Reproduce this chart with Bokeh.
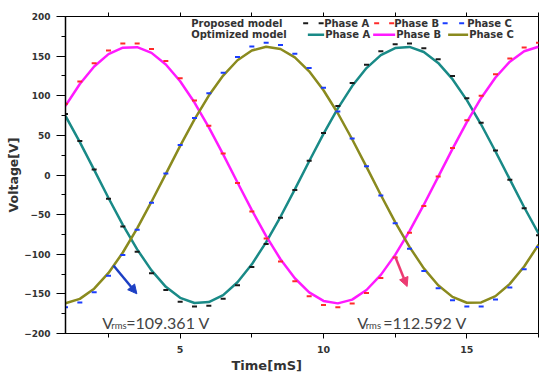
from bokeh.plotting import figure
from bokeh.models import Range1d, FixedTicker, LinearAxis, Label, Arrow, NormalHead, Title
from bokeh.core.properties import value
from bokeh.embed import file_html
from bokeh.resources import INLINE

# ---- data ----
time_ms = [1.0, 1.5, 2.0, 2.5, 3.0, 3.5, 4.0, 4.5, 5.0, 5.5, 6.0, 6.5, 7.0, 7.5, 8.0, 8.5,
           9.0, 9.5, 10.0, 10.5, 11.0, 11.5, 12.0, 12.5, 13.0, 13.5, 14.0, 14.5, 15.0, 15.5,
           16.0, 16.5, 17.0, 17.5]

opt_phase_a = [74.5, 41.4, 6.4, -29.0, -62.9, -93.9, -120.3, -141.1, -155.0, -161.5, -160.3,
               -151.5, -135.4, -112.7, -84.7, -52.7, -18.1, 17.3, 51.9, 84.1, 112.2, 134.9,
               151.2, 160.2, 161.6, 155.2, 141.4, 120.9, 94.5, 63.7, 29.7, -5.6, -40.7, -73.8]
opt_phase_b = [87.3, 114.9, 137.0, 152.5, 160.7, 161.3, 154.1, 139.5, 118.3, 91.4, 60.1, 26.0,
               -9.4, -44.4, -77.2, -106.3, -130.3, -148.2, -158.9, -162.0, -157.3, -145.1,
               -126.0, -100.8, -70.9, -37.5, -2.3, 33.0, 66.7, 97.2, 123.0, 143.0, 156.1, 161.8]
opt_phase_c = [-161.8, -156.3, -143.4, -123.6, -97.8, -67.4, -33.7, 1.5, 36.7, 70.1, 100.2,
               125.5, 144.8, 157.1, 161.9, 159.0, 148.5, 130.8, 106.9, 77.9, 45.1, 10.2, -25.2,
               -59.4, -90.7, -117.8, -139.1, -153.8, -161.2, -160.8, -152.8, -137.4, -115.5, -88.0]

prop_phase_a = [77, 43, 7, -30, -65, -97, -124, -145, -160, -166, -165, -156, -139, -116, -87,
                -54, -19, 18, 53, 87, 116, 139, 156, 165, 166, 160, 146, 125, 97, 66, 31, -6,
                -42, -76]
prop_phase_b = [90, 118, 141, 157, 166, 166, 159, 144, 122, 94, 62, 27, -10, -46, -80, -109,
                -134, -153, -164, -167, -162, -149, -130, -104, -73, -39, -2, 34, 69, 100, 127,
                147, 161, 167]
prop_phase_c = [-167, -161, -148, -127, -101, -69, -35, 2, 38, 72, 103, 129, 149, 162, 167, 164,
                153, 135, 110, 80, 46, 11, -26, -61, -93, -121, -143, -158, -166, -166, -157,
                -142, -119, -91]

y_ticks = [-200, -150, -100, -50, 0, 50, 100, 150, 200]
y_minor = [-175, -125, -75, -25, 25, 75, 125, 175]
x_ticks = [5, 10, 15]
x_minor = [2.5, 7.5, 12.5, 17.5]
top_ticks = [2.5, 5, 7.5, 10, 12.5, 15, 17.5]

vrms_left = "=109.361 V"
vrms_right = "=112.592 V"

TEAL = "#198a87"
MAGENTA = "#ff1aff"
OLIVE = "#8a8a1e"
BLACK_M = "#1a1a1a"
RED_M = "#ff2a2a"
BLUE_M = "#1a3cff"
TXT = "#333333"

# conversion from reference pixels to data coordinates (annotation placement)
def dx(px):
    return 5 + (px - 180) / 28.67

def dy(py):
    return 200 - (py - 16) / 0.7925

p = figure(width=550, height=380, x_range=Range1d(1, 17.5), y_range=Range1d(-200, 200),
           output_backend="svg", toolbar_location=None,
           min_border_left=65, min_border_right=12, min_border_top=16, min_border_bottom=47)
p.grid.visible = False
p.outline_line_color = "black"
p.outline_line_width = 1
p.background_fill_color = "white"
p.border_fill_color = "white"

# axes
ya = p.yaxis[0]
ya.ticker = FixedTicker(ticks=y_ticks, minor_ticks=y_minor)
ya.major_tick_out = 9
ya.major_tick_in = 0
ya.minor_tick_out = 4
ya.minor_tick_in = 0
ya.major_label_standoff = 6
ya.major_label_text_font = "DejaVu Sans"
ya.major_label_text_font_style = "bold"
ya.major_label_text_font_size = "9px"
ya.major_label_text_color = TXT
ya.axis_line_width = 1.5
ya.axis_line_color = "black"
ya.major_tick_line_color = "black"
ya.minor_tick_line_color = "black"
ya.axis_label = "Voltage[V]"
ya.axis_label_text_font = "DejaVu Sans"
ya.axis_label_text_font_style = "bold"
ya.axis_label_text_font_size = "12.5px"
ya.axis_label_text_color = TXT
ya.axis_label_standoff = 0

xa = p.xaxis[0]
xa.ticker = FixedTicker(ticks=x_ticks, minor_ticks=x_minor)
xa.major_tick_out = 5
xa.major_tick_in = 0
xa.minor_tick_out = 4
xa.minor_tick_in = 0
xa.major_label_standoff = 7
xa.major_label_text_font = "DejaVu Sans"
xa.major_label_text_font_style = "bold"
xa.major_label_text_font_size = "9.5px"
xa.major_label_text_color = TXT
xa.axis_line_color = "black"
xa.major_tick_line_color = "black"
xa.minor_tick_line_color = "black"

top = LinearAxis(ticker=FixedTicker(ticks=[], minor_ticks=top_ticks),
                 major_tick_out=0, major_tick_in=0, minor_tick_out=4, minor_tick_in=0,
                 axis_line_color="black", minor_tick_line_color="black")
p.add_layout(top, "above")

# x axis title, placed left of centre as in the reference
p.add_layout(Title(text="Time[mS]", align="left", offset=166, text_font="DejaVu Sans",
                   text_font_style="bold", text_font_size="13px", text_color=TXT,
                   standoff=0), "below")

# optimized model lines
p.line(time_ms, opt_phase_a, line_color=TEAL, line_width=2.5)
p.line(time_ms, opt_phase_b, line_color=MAGENTA, line_width=2.5)
p.line(time_ms, opt_phase_c, line_color=OLIVE, line_width=2.5)

# proposed model markers
p.scatter(time_ms, prop_phase_a, marker="dash", size=5, line_width=2, line_color=BLACK_M)
p.scatter(time_ms, prop_phase_b, marker="dash", size=5, line_width=2, line_color=RED_M)
p.scatter(time_ms, prop_phase_c, marker="dash", size=5, line_width=2, line_color=BLUE_M)

# legend (custom, two rows)
leg_font = value("DejaVu Sans")
p.text(x=[dx(191), dx(191)], y=[dy(22.7), dy(34.3)],
       text=["Proposed model", "Optimized model"], text_font=leg_font,
       text_font_style="bold", text_font_size="10px", text_color=TXT,
       text_baseline="middle", text_align="left")
p.text(x=[dx(324), dx(394), dx(467), dx(325), dx(396), dx(469)],
       y=[dy(22.7)] * 3 + [dy(34.3)] * 3,
       text=["Phase A", "Phase B", "Phase C", "Phase A", "Phase B", "Phase C"],
       text_font=leg_font, text_font_style="bold", text_font_size="10px", text_color=TXT,
       text_baseline="middle", text_align="left")
p.scatter(x=[dx(305.5), dx(321)], y=[dy(22.7)] * 2, marker="dash", size=5, line_width=2,
          line_color=BLACK_M)
p.scatter(x=[dx(376.5), dx(391.5)], y=[dy(22.7)] * 2, marker="dash", size=5, line_width=2,
          line_color=RED_M)
p.scatter(x=[dx(445), dx(461.5)], y=[dy(22.7)] * 2, marker="dash", size=5, line_width=2,
          line_color=BLUE_M)
p.segment(x0=[dx(307.7), dx(373), dx(448)], y0=[dy(34.3)] * 3,
          x1=[dx(324), dx(395), dx(468)], y1=[dy(34.3)] * 3,
          line_color=[TEAL, MAGENTA, OLIVE], line_width=2.5)

# Vrms annotations
ann_font = "Lato"
ann_col = "#444444"
for vx, rx, ex, txt in [(102, 111, 126, vrms_left), (357, 365.5, 383, vrms_right)]:
    p.add_layout(Label(x=dx(vx), y=dy(322), text="V", text_font=ann_font,
                       text_font_size="16px", text_color=ann_col, text_baseline="alphabetic"))
    p.add_layout(Label(x=dx(rx), y=dy(325), text="rms", text_font=ann_font,
                       text_font_size="9.5px", text_color=ann_col, text_baseline="alphabetic"))
    p.add_layout(Label(x=dx(ex), y=dy(322), text=txt, text_font=ann_font,
                       text_font_size="16px", text_color=ann_col, text_baseline="alphabetic"))

# arrows
p.add_layout(Arrow(end=NormalHead(size=9, fill_color="#1c3fc4", line_color="#1c3fc4"),
                   x_start=dx(113.3), y_start=dy(265), x_end=dx(136.7), y_end=dy(293.3),
                   line_color="#1c3fc4", line_width=2.5))
p.add_layout(Arrow(end=NormalHead(size=9, fill_color="#ec3a72", line_color="#ec3a72"),
                   x_start=dx(395), y_start=dy(256), x_end=dx(407), y_end=dy(286),
                   line_color="#ec3a72", line_width=2.5))

open("out.html", "w").write(file_html(p, INLINE))
